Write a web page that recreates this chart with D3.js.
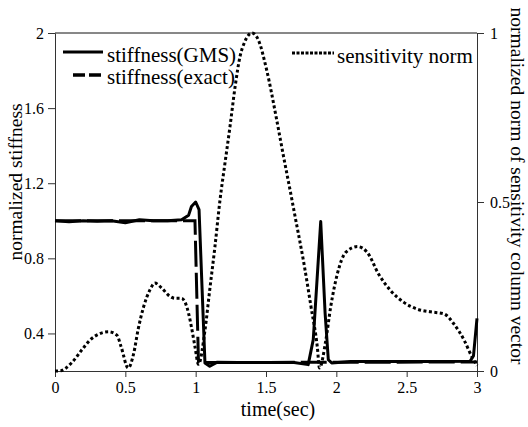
<!DOCTYPE html>
<html>
<head>
<meta charset="utf-8">
<script src="https://cdn.jsdelivr.net/npm/d3@7"></script>
<style>
  body { margin: 0; background: #fff; }
  svg { display: block; font-family: "Liberation Serif", "Times New Roman", serif; }
</style>
</head>
<body>
<svg width="528" height="427"></svg>
<script>
'use strict';

// stiffness identified by GMS (left axis)
var gmsTime = [0, 0.1, 0.2, 0.3, 0.4, 0.5, 0.6, 0.7, 0.8, 0.9, 0.95, 0.97, 1.0, 1.024, 1.045, 1.066, 1.10, 1.15, 1.3, 1.5, 1.7, 1.80, 1.836, 1.889, 1.92, 1.943, 1.967, 2.1, 2.4, 2.7, 2.95, 2.975, 2.99, 3.0];
var gmsStiff = [1.0, 0.995, 1.0, 0.998, 1.0, 0.99, 1.005, 1.0, 1.0, 1.005, 1.03, 1.076, 1.10, 1.06, 0.65, 0.243, 0.225, 0.246, 0.245, 0.245, 0.245, 0.234, 0.367, 0.996, 0.51, 0.26, 0.243, 0.25, 0.25, 0.25, 0.252, 0.28, 0.40, 0.48];

// exact stiffness (left axis)
var exactTime = [0, 0.995, 1.02, 3.0];
var exactStiff = [1.0, 1.0, 0.245, 0.248];

// sensitivity norm (right axis)
var sensTime = [0, 0.03, 0.12, 0.19, 0.25, 0.31, 0.38, 0.44, 0.47, 0.52, 0.56, 0.59, 0.63, 0.675, 0.71, 0.76, 0.805, 0.853, 0.90, 0.95, 0.97, 0.995, 1.02, 1.066, 1.10, 1.137, 1.173, 1.21, 1.244, 1.28, 1.315, 1.35, 1.40, 1.445, 1.505, 1.576, 1.62, 1.68, 1.71, 1.77, 1.82, 1.865, 1.88, 1.925, 1.96, 2.007, 2.067, 2.15, 2.22, 2.30, 2.386, 2.48, 2.575, 2.67, 2.765, 2.836, 2.91, 2.966, 3.0];
var sensNorm = [0.0, 0.0, 0.025, 0.062, 0.092, 0.109, 0.116, 0.106, 0.072, 0.009, 0.053, 0.121, 0.19, 0.24, 0.26, 0.245, 0.225, 0.215, 0.215, 0.17, 0.13, 0.072, 0.02, 0.12, 0.24, 0.368, 0.506, 0.62, 0.723, 0.84, 0.93, 0.975, 1.0, 0.98, 0.89, 0.743, 0.645, 0.516, 0.45, 0.317, 0.19, 0.07, 0.009, 0.09, 0.19, 0.287, 0.351, 0.368, 0.351, 0.287, 0.238, 0.203, 0.183, 0.175, 0.169, 0.139, 0.09, 0.04, 0.016];

var xTicks = [0, 0.5, 1, 1.5, 2, 2.5, 3];
var leftTicks = [0.4, 0.8, 1.2, 1.6, 2];
var rightTicks = [0, 0.5, 1];

var svg = d3.select('svg');

var plotLeft = 55, plotRight = 477, plotTop = 33, plotBottom = 371;

var x = d3.scaleLinear().domain([0, 3]).range([plotLeft, plotRight]);
var yL = d3.scaleLinear().domain([0.2, 2]).range([plotBottom, plotTop]);
var yR = d3.scaleLinear().domain([0, 1]).range([plotBottom, plotTop]);

function zip(ts, vs) {
    return ts.map(function(t, i) { return { t: t, v: vs[i] }; });
}

// axes
var xAxis = d3.axisBottom(x).tickValues(xTicks).tickSize(6).tickSizeOuter(0).tickPadding(5)
    .tickFormat(d3.format('~g'));
var leftAxis = d3.axisLeft(yL).tickValues(leftTicks).tickSize(7).tickSizeOuter(0).tickPadding(4)
    .tickFormat(d3.format('~g'));
var rightAxis = d3.axisRight(yR).tickValues(rightTicks).tickSize(7).tickSizeOuter(0).tickPadding(6)
    .tickFormat(d3.format('~g'));

var gx = svg.append('g').attr('transform', 'translate(0,' + plotBottom + ')').call(xAxis);
var gl = svg.append('g').attr('transform', 'translate(' + plotLeft + ',0)').call(leftAxis);
var gr = svg.append('g').attr('transform', 'translate(' + plotRight + ',0)').call(rightAxis);

[gx, gl, gr].forEach(function(g) {
    g.selectAll('text').attr('font-size', 16).attr('font-family', '"Liberation Serif", serif').attr('fill', '#000');
    g.selectAll('line').attr('stroke', '#333');
    g.select('.domain').attr('stroke', '#333');
});

// top border
svg.append('line')
    .attr('x1', plotLeft).attr('x2', plotRight)
    .attr('y1', plotTop).attr('y2', plotTop)
    .attr('stroke', '#111');

// lines
var lineL = d3.line().x(function(d) { return x(d.t); }).y(function(d) { return yL(d.v); });
var lineR = d3.line().curve(d3.curveMonotoneX)
    .x(function(d) { return x(d.t); }).y(function(d) { return yR(d.v); });

svg.append('path')
    .datum(zip(sensTime, sensNorm))
    .attr('d', lineR)
    .attr('fill', 'none')
    .attr('stroke', '#000')
    .attr('stroke-width', 3)
    .attr('stroke-dasharray', '3,2.5');

svg.append('path')
    .datum(zip(exactTime, exactStiff))
    .attr('d', lineL)
    .attr('fill', 'none')
    .attr('stroke', '#000')
    .attr('stroke-width', 3)
    .attr('stroke-dasharray', '26,6');

svg.append('path')
    .datum(zip(gmsTime, gmsStiff))
    .attr('d', lineL)
    .attr('fill', 'none')
    .attr('stroke', '#000')
    .attr('stroke-width', 3)
    .attr('stroke-linejoin', 'round');

// legend
var legend = svg.append('g').attr('font-size', 21);

legend.append('line').attr('x1', 63).attr('x2', 103).attr('y1', 52).attr('y2', 52)
    .attr('stroke', '#000').attr('stroke-width', 3);
legend.append('text').attr('x', 107).attr('y', 62).text('stiffness(GMS)');

legend.append('line').attr('x1', 73).attr('x2', 102).attr('y1', 75).attr('y2', 75)
    .attr('stroke', '#000').attr('stroke-width', 3.5).attr('stroke-dasharray', '12,4');
legend.append('text').attr('x', 107).attr('y', 84).text('stiffness(exact)');

legend.append('line').attr('x1', 292).attr('x2', 334).attr('y1', 53).attr('y2', 53)
    .attr('stroke', '#000').attr('stroke-width', 3).attr('stroke-dasharray', '3,1.5');
legend.append('text').attr('x', 337).attr('y', 63).text('sensitivity norm');

// axis titles
svg.append('text')
    .attr('transform', 'translate(278,416)')
    .attr('text-anchor', 'middle')
    .attr('font-size', 20)
    .text('time(sec)');

svg.append('text')
    .attr('transform', 'translate(22,182) rotate(-90)')
    .attr('text-anchor', 'middle')
    .attr('font-size', 19.5)
    .text('normalized stiffness');

svg.append('text')
    .attr('transform', 'translate(511,186) rotate(90)')
    .attr('text-anchor', 'middle')
    .attr('font-size', 19.5)
    .text('normalized norm of sensitivity column vector');
</script>
</body>
</html>
